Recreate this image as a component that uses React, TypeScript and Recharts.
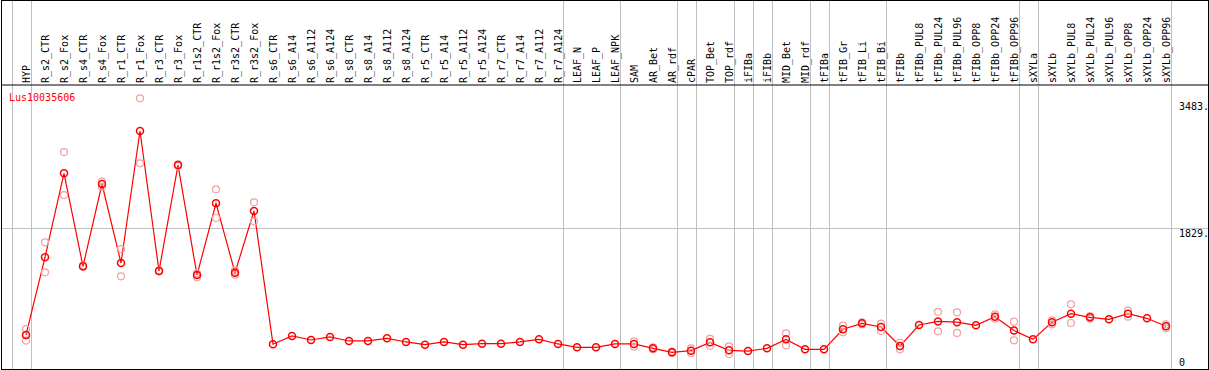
import React from 'react';
import { ComposedChart, Line, XAxis, YAxis, ReferenceLine } from 'recharts';

// expression profile for one gene across tissues / treatments
const geneId = 'Lus10035606';

const categories = [
  'HYP', 'R_s2_CTR', 'R_s2_Fox', 'R_s4_CTR', 'R_s4_Fox', 'R_r1_CTR', 'R_r1_Fox', 'R_r3_CTR', 'R_r3_Fox',
  'R_r1s2_CTR', 'R_r1s2_Fox', 'R_r3s2_CTR', 'R_r3s2_Fox', 'R_s6_CTR', 'R_s6_A14', 'R_s6_A112', 'R_s6_A124',
  'R_s8_CTR', 'R_s8_A14', 'R_s8_A112', 'R_s8_A124', 'R_r5_CTR', 'R_r5_A14', 'R_r5_A112', 'R_r5_A124',
  'R_r7_CTR', 'R_r7_A14', 'R_r7_A112', 'R_r7_A124', 'LEAF_N', 'LEAF_P', 'LEAF_NPK', 'SAM', 'AR_Bet', 'AR_rdf',
  'cPAR', 'TOP_Bet', 'TOP_rdf', 'iFIBa', 'iFIBb', 'MID_Bet', 'MID_rdf', 'tFIBa', 'tFIB_Gr', 'tFIB_Li', 'tFIB_Bi',
  'tFIBb', 'tFIBb_PUL8', 'tFIBb_PUL24', 'tFIBb_PUL96', 'tFIBb_OPP8', 'tFIBb_OPP24', 'tFIBb_OPP96', 'sXYLa',
  'sXYLb', 'sXYLb_PUL8', 'sXYLb_PUL24', 'sXYLb_PUL96', 'sXYLb_OPP8', 'sXYLb_OPP24', 'sXYLb_OPP96',
];

const means = [
  443, 1454, 2548, 1337, 2409, 1380, 3099, 1276, 2656, 1224, 2157, 1254, 2057, 323, 430, 378, 417,
  365, 365, 399, 352, 317, 352, 317, 330, 330, 352, 386, 326, 282, 282, 326, 326, 269, 217,
  239, 347, 243, 234, 269, 386, 256, 256, 517, 595, 547, 299, 573, 620, 610, 569, 681, 500, 386,
  608, 720, 673, 647, 720, 660, 556,
];

// replicates (null = hidden under the mean marker)
const rep1 = [
  520, 1650, 2825, 1345, 2439, 1562, 3524, 1280, 2665, 1246, 2340, 1280, 2170, null, null, null, null,
  null, null, null, null, null, null, null, null, null, null, null, null, null, null, null, 360, 282, 225,
  269, 392, 295, null, null, 465, null, null, 564, 608, 590, 342, null, 745, 738, null, 712, 616, null,
  634, 842, 690, null, 759, null, 582,
];
const rep2 = [
  370, 1259, 2265, 1330, 2374, 1207, 2678, 1272, 2645, 1194, 1966, 1228, 1923, null, null, null, null,
  null, null, null, null, null, null, null, null, null, null, null, null, null, null, null, 292, 256, 209,
  209, 302, 195, null, null, 308, null, null, 478, 582, 495, 256, null, 490, 470, null, 655, 374, null,
  582, 599, 656, null, 681, null, 530,
];
const rep3 = [440];

const yTicks = [0, 1829, 3483];
const yMax = 3698;

// last category of each group -> grey separator right after it
const groupEnds = [
  'HYP', 'R_r7_A124', 'LEAF_NPK', 'AR_rdf', 'cPAR', 'TOP_rdf', 'iFIBa', 'iFIBb', 'MID_rdf', 'tFIBa',
  'tFIB_Bi', 'tFIBb_OPP96', 'sXYLa', 'sXYLb_OPP96',
];

const data = categories.map((name, i) => ({
  name,
  mean: means[i],
  r1: rep1[i] ?? null,
  r2: rep2[i] ?? null,
  r3: rep3[i] ?? null,
}));

const HEADER = 85;
const STEP = 19;
const FONT = '"DejaVu Sans Mono", monospace';
const GREY = '#c0c0c0';
const PINK = '#f0a0a0';

function CategoryTick(props: any) {
  const { x, y, payload } = props;
  return (
    <text
      x={x}
      y={y}
      dy="0.35em"
      transform={`rotate(-90, ${x}, ${y})`}
      textAnchor="start"
      fontFamily={FONT}
      fontSize={10}
      fill="#000"
    >
      {payload.value}
    </text>
  );
}

function ValueTick(props: any) {
  const { x, y, payload } = props;
  const v = payload.value;
  return (
    <text x={x} y={v === 0 ? y - 3 : y + 8.5} textAnchor="start" fontFamily={FONT} fontSize={10} fill="#000">
      {v === 0 ? '0' : `${v}.`}
    </text>
  );
}

const separator = (shift: number) => (p: any) => {
  const top = Math.min(p.y1, p.y2);
  const bottom = Math.max(p.y1, p.y2);
  return (
    <line
      x1={p.x1 + shift}
      x2={p.x2 + shift}
      y1={top - HEADER + 1}
      y2={bottom}
      stroke={GREY}
      strokeWidth={1}
    />
  );
};

export default function App() {
  return (
    <div style={{ position: 'absolute', left: 0, top: 0, width: 1209, height: 370, background: '#fff' }}>
      <ComposedChart width={1209} height={370} data={data} margin={{ top: 0, right: 1, bottom: 1, left: 1 }}>
        <XAxis
          dataKey="name"
          orientation="top"
          height={HEADER}
          scale="point"
          padding={{ left: 25, right: 42 }}
          interval={0}
          tickLine={false}
          tickSize={0}
          tickMargin={2}
          axisLine={{ stroke: '#000' }}
          tick={<CategoryTick />}
        />
        <YAxis
          type="number"
          orientation="right"
          mirror
          width={1}
          domain={[0, yMax]}
          ticks={yTicks}
          interval={0}
          allowDataOverflow
          tickLine={false}
          axisLine={false}
          tickSize={29}
          tickMargin={0}
          tick={<ValueTick />}
        />
        <ReferenceLine y={1829} stroke={GREY} strokeWidth={1} />
        <ReferenceLine x={categories[0]} shape={separator(5.5 - STEP)} />
        {groupEnds.map((c) => (
          <ReferenceLine key={c} x={c} shape={separator(5.5)} />
        ))}
        {['r1', 'r2', 'r3'].map((k) => (
          <Line
            key={k}
            dataKey={k}
            stroke="none"
            isAnimationActive={false}
            activeDot={false}
            legendType="none"
            dot={{ r: 3.5, stroke: PINK, strokeWidth: 1.2, fill: 'none' }}
          />
        ))}
        <Line
          dataKey="mean"
          stroke="#ff0000"
          strokeWidth={1.2}
          isAnimationActive={false}
          activeDot={false}
          dot={{ r: 3.5, stroke: '#ff0000', strokeWidth: 1.5, fill: 'none' }}
        />
      </ComposedChart>
      <div
        style={{
          position: 'absolute',
          left: 9,
          top: 92,
          fontFamily: FONT,
          fontSize: 10,
          lineHeight: '12px',
          color: '#ff0000',
        }}
      >
        {geneId}
      </div>
      <div
        style={{
          position: 'absolute',
          left: 1,
          top: 0,
          width: 1208,
          height: 370,
          boxSizing: 'border-box',
          border: '1px solid #000',
          pointerEvents: 'none',
        }}
      />
    </div>
  );
}
